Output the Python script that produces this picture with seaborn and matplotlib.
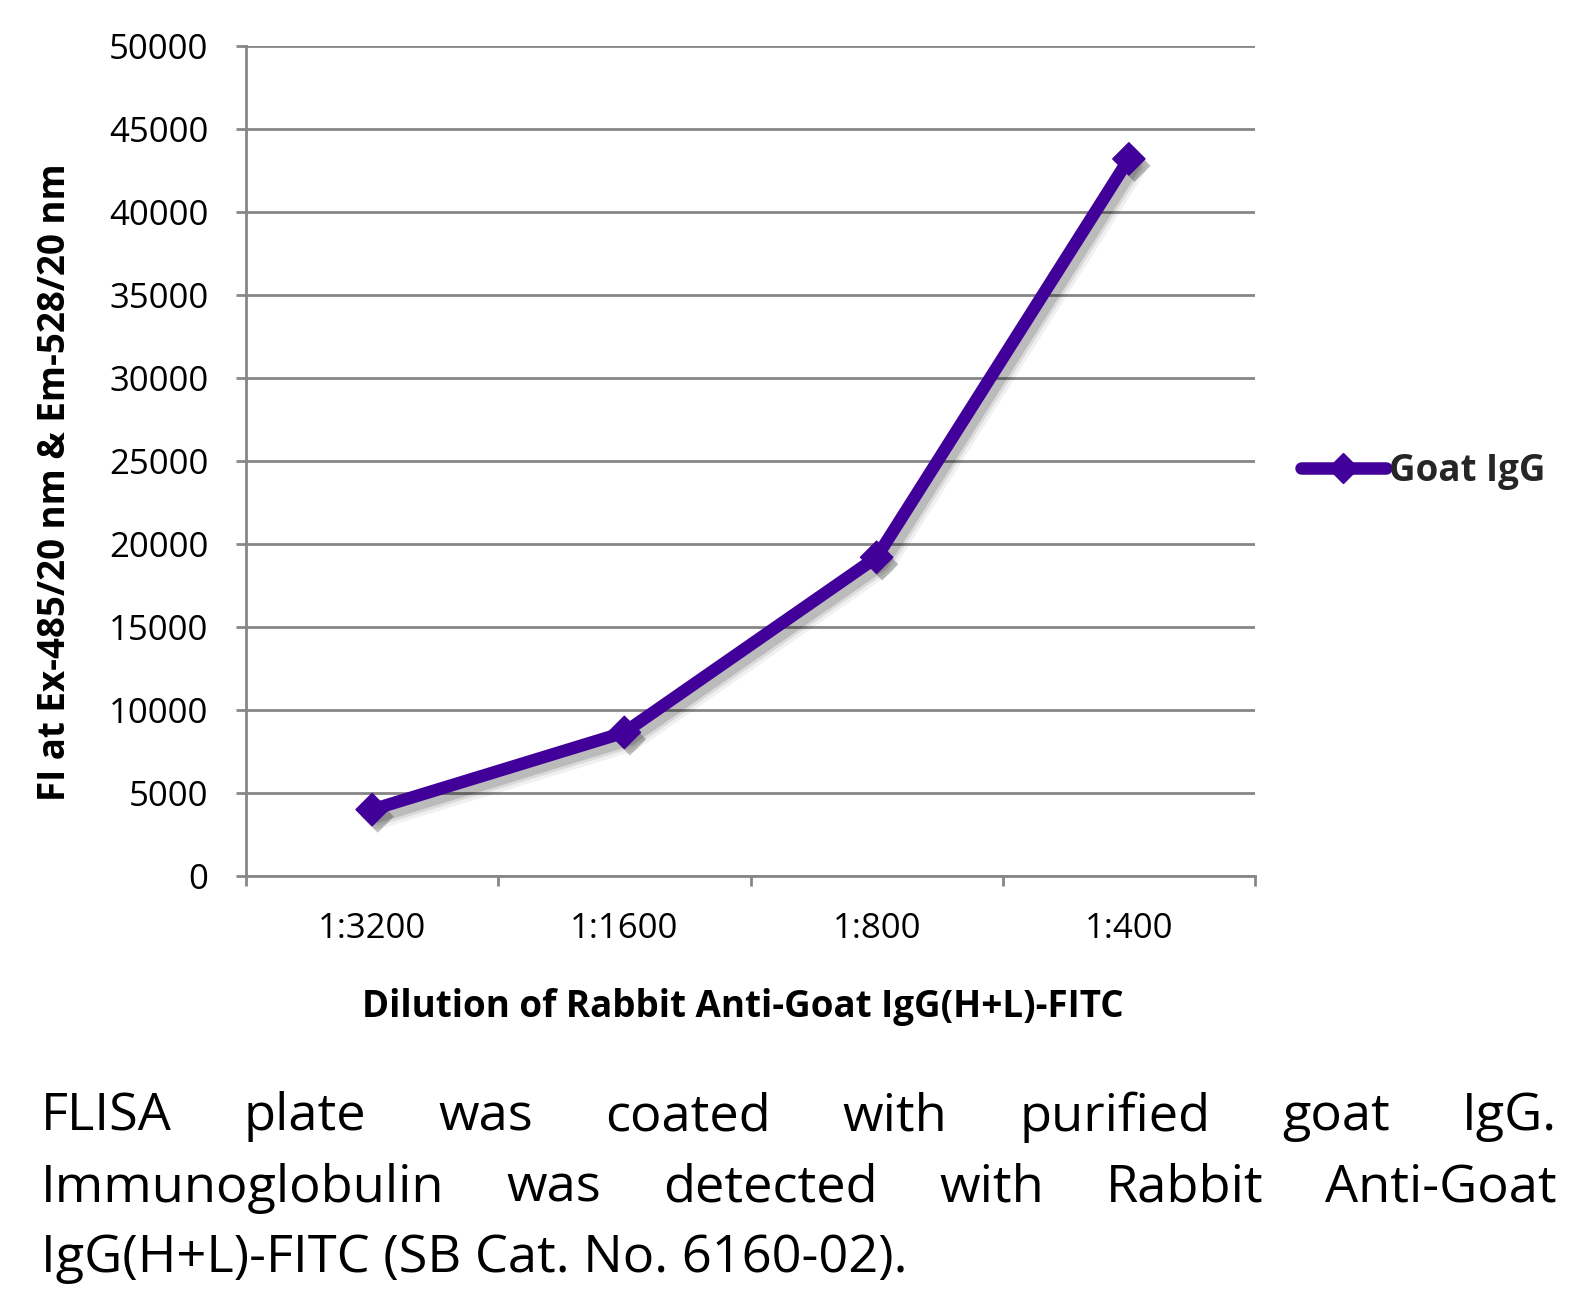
import matplotlib
matplotlib.use("Agg")
import matplotlib.pyplot as plt
import matplotlib.patheffects as pe
from matplotlib.lines import Line2D
import seaborn as sns
import pandas as pd

# ---- data ----
dilutions = ["1:3200", "1:1600", "1:800", "1:400"]
goat_igg = [4000, 8650, 19200, 43200]
series_name = "Goat IgG"
y_ticks = [0, 5000, 10000, 15000, 20000, 25000, 30000, 35000, 40000, 45000, 50000]
x_label = "Dilution of Rabbit Anti-Goat IgG(H+L)-FITC"
y_label = "FI at Ex-485/20 nm & Em-528/20 nm"
caption_lines = [
    "FLISA plate was coated with purified goat IgG.",
    "Immunoglobulin was detected with Rabbit Anti-Goat",
    "IgG(H+L)-FITC (SB Cat. No. 6160-02).",
]

sns.set_theme(style="white")
plt.rcParams['font.family'] = ['Open Sans', 'DejaVu Sans']

W, H = 1590, 1306
fig = plt.figure(figsize=(W / 100, H / 100), dpi=100)
left, right, top, bottom = 246, 1255, 46, 876
ax = fig.add_axes([left / W, 1 - bottom / H, (right - left) / W, (bottom - top) / H])

line_color = "#400099"
grid_color = "#868686"
lw = 9

df = pd.DataFrame({"Dilution": dilutions, "FI": goat_igg, "Series": series_name})
sns.lineplot(data=df, x="Dilution", y="FI", hue="Series", palette=[line_color],
             linewidth=lw, sort=False, ax=ax, legend=False, zorder=5)
sns.scatterplot(data=df, x="Dilution", y="FI", hue="Series", palette=[line_color],
                marker="D", s=270, edgecolor=line_color, linewidth=1,
                ax=ax, legend=False, zorder=6)

line_shadow = [
    pe.SimpleLineShadow(offset=(4, -5), shadow_color="black", alpha=0.06, linewidth=lw + 9),
    pe.SimpleLineShadow(offset=(4, -5), shadow_color="black", alpha=0.09, linewidth=lw + 4),
    pe.SimpleLineShadow(offset=(4, -5), shadow_color="black", alpha=0.14, linewidth=lw),
    pe.Normal(),
]
for ln in ax.lines:
    ln.set_solid_joinstyle("round")
    ln.set_path_effects(line_shadow)
for coll in ax.collections:
    coll.set_path_effects([
        pe.SimplePatchShadow(offset=(4, -5), shadow_rgbFace="black", alpha=0.25),
        pe.Normal(),
    ])

ax.set_ylim(0, 50000)
ax.set_yticks(y_ticks)
ax.set_yticklabels([str(v) for v in y_ticks])
ax.set_xlim(-0.5, len(dilutions) - 0.5)
ax.set_xticks(range(len(dilutions)))
ax.set_xticklabels(dilutions)
ax.set_xticks([i - 0.5 for i in range(len(dilutions) + 1)], minor=True)

ax.yaxis.grid(True, color=grid_color, linewidth=2)
ax.xaxis.grid(False)
ax.set_axisbelow(True)
for s in ["top", "right"]:
    ax.spines[s].set_visible(False)
for s in ["left", "bottom"]:
    ax.spines[s].set_color(grid_color)
    ax.spines[s].set_linewidth(2)

ax.tick_params(axis="y", which="major", length=7.2, width=2, color=grid_color,
               pad=20, labelsize=25, labelcolor="black", left=True)
ax.tick_params(axis="x", which="major", length=0, pad=26, labelsize=25, labelcolor="black")
ax.tick_params(axis="x", which="minor", length=7.2, width=2, color=grid_color, bottom=True)

ax.set_xlabel(x_label, fontsize=26.5, fontweight="bold", color="black")
ax.set_ylabel(y_label, fontsize=26.5, fontweight="bold", color="black")
ax.xaxis.set_label_coords((743 - left) / (right - left), (bottom - 1007) / (bottom - top))
ax.yaxis.set_label_coords((55 - left) / (right - left), (bottom - 482) / (bottom - top))
ax.xaxis.label.set_va("center")
ax.yaxis.label.set_va("center")

handle = Line2D([], [], color=line_color, linewidth=lw, marker="D", markersize=15,
                markeredgecolor=line_color, solid_capstyle="round")
fig.legend([handle], [series_name], loc="center left",
           bbox_to_anchor=(1301 / W, 1 - 471 / H), bbox_transform=fig.transFigure,
           frameon=False, borderpad=0, borderaxespad=0, handlelength=2.3,
           handletextpad=0.1, prop={"weight": "bold", "size": 26.5})

# ---- justified caption ----
cap_size = 37.7
x0, x1 = 41, 1557
line_ys = [1117, 1188, 1259]
renderer = fig.canvas.get_renderer()
for i, (txt, yc) in enumerate(zip(caption_lines, line_ys)):
    yf = 1 - yc / H
    if i == len(caption_lines) - 1:
        fig.text(x0 / W, yf, txt, fontsize=cap_size, ha="left", va="center", color="black")
        continue
    words = txt.split(" ")
    objs = [fig.text(0, yf, w, fontsize=cap_size, ha="left", va="center", color="black") for w in words]
    widths = [o.get_window_extent(renderer).width for o in objs]
    gap = ((x1 - x0) - sum(widths)) / (len(words) - 1)
    xpos = x0
    for o, wd in zip(objs, widths):
        o.set_x(xpos / W)
        xpos += wd + gap

fig.savefig("out.png", dpi=100)
